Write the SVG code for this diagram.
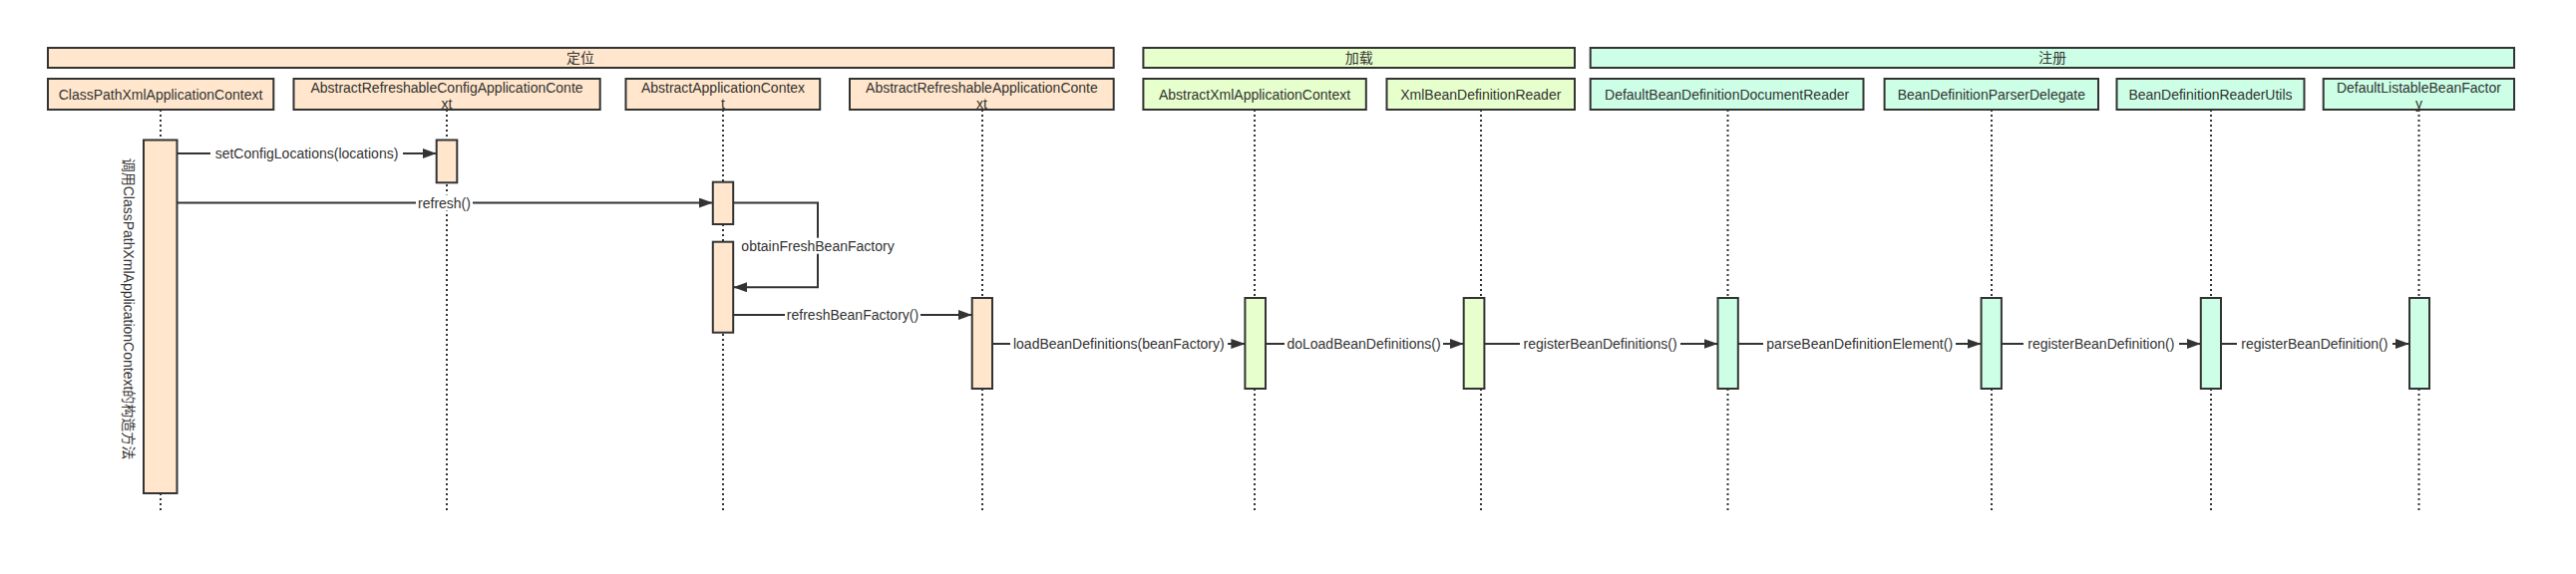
<svg xmlns="http://www.w3.org/2000/svg" width="2583" height="576" viewBox="0 0 2583 576">
<defs>
<style>
.t{font-family:"Liberation Sans","Noto Sans CJK SC",sans-serif;font-size:14px;fill:#333;text-anchor:middle;dominant-baseline:central}
.pe{fill:#FFE6CC;stroke:#333;stroke-width:2}
.gr{fill:#E6FFCC;stroke:#333;stroke-width:2}
.mi{fill:#CCFFE6;stroke:#333;stroke-width:2}
.life{stroke:#333;stroke-width:2;stroke-dasharray:2 3;fill:none}
.msg{stroke:#333;stroke-width:2;fill:none;marker-end:url(#arr)}
.bg{fill:#fff}
</style>
<marker id="arr" markerWidth="14" markerHeight="10" refX="14" refY="5" orient="auto" markerUnits="userSpaceOnUse">
<path d="M0,0 L14,5 L0,10 z" fill="#333"/>
</marker>
</defs>
<rect width="2583" height="576" fill="#fff"/>

<!-- group bars -->
<g id="bar-dingwei"><rect class="pe" x="48" y="48" width="1068.7" height="20"/><text class="t" x="582" y="58">定位</text></g>
<g id="bar-jiazai"><rect class="gr" x="1146.4" y="48" width="432.6" height="20"/><text class="t" x="1362.7" y="58">加载</text></g>
<g id="bar-zhuce"><rect class="mi" x="1594.7" y="48" width="926.3" height="20"/><text class="t" x="2058" y="58">注册</text></g>

<!-- lifelines -->
<g id="lifelines">
<line class="life" x1="161" y1="110" x2="161" y2="512"/>
<line class="life" x1="448" y1="110" x2="448" y2="512"/>
<line class="life" x1="725" y1="110" x2="725" y2="512"/>
<line class="life" x1="985" y1="110" x2="985" y2="512"/>
<line class="life" x1="1258" y1="110" x2="1258" y2="512"/>
<line class="life" x1="1485" y1="110" x2="1485" y2="512"/>
<line class="life" x1="1732.5" y1="110" x2="1732.5" y2="512"/>
<line class="life" x1="1997" y1="110" x2="1997" y2="512"/>
<line class="life" x1="2217" y1="110" x2="2217" y2="512"/>
<line class="life" x1="2425.5" y1="110" x2="2425.5" y2="512"/>
</g>

<!-- participants -->
<g id="p-ClassPathXmlApplicationContext"><rect class="pe" x="48" y="79" width="226.3" height="31"/><text class="t" x="161" y="94.5">ClassPathXmlApplicationContext</text>
<rect class="pe" x="144" y="140.5" width="33.5" height="354.5"/>
<text class="t" x="128.5" y="310" transform="rotate(90 128.5 310)">调用ClassPathXmlApplicationContext的构造方法</text></g>
<g id="p-AbstractRefreshableConfigApplicationContext"><rect class="pe" x="294.5" y="79" width="307.2" height="31"/><text class="t" x="448" y="87.5">AbstractRefreshableConfigApplicationConte</text><text class="t" x="448" y="104">xt</text>
<rect class="pe" x="437.7" y="140.5" width="20.6" height="42.8"/></g>
<g id="p-AbstractApplicationContext"><rect class="pe" x="627.5" y="79" width="194.7" height="31"/><text class="t" x="725" y="87.5">AbstractApplicationContex</text><text class="t" x="725" y="104">t</text>
<rect class="pe" x="714.8" y="182.7" width="20.4" height="42.3"/>
<rect class="pe" x="714.8" y="242.7" width="20.4" height="91"/></g>
<g id="p-AbstractRefreshableApplicationContext"><rect class="pe" x="852" y="79" width="264.7" height="31"/><text class="t" x="984.4" y="87.5">AbstractRefreshableApplicationConte</text><text class="t" x="984.4" y="104">xt</text>
<rect class="pe" x="974.7" y="299" width="20.3" height="91"/></g>
<g id="p-AbstractXmlApplicationContext"><rect class="gr" x="1146.4" y="79" width="223.4" height="31"/><text class="t" x="1258" y="94.5">AbstractXmlApplicationContext</text>
<rect class="gr" x="1248.4" y="299" width="20.6" height="91"/></g>
<g id="p-XmlBeanDefinitionReader"><rect class="gr" x="1390.5" y="79" width="188.5" height="31"/><text class="t" x="1484.8" y="94.5">XmlBeanDefinitionReader</text>
<rect class="gr" x="1467.7" y="299" width="20.7" height="91"/></g>
<g id="p-DefaultBeanDefinitionDocumentReader"><rect class="mi" x="1594.7" y="79" width="273.8" height="31"/><text class="t" x="1731.6" y="94.5">DefaultBeanDefinitionDocumentReader</text>
<rect class="mi" x="1722.5" y="299" width="20.3" height="91"/></g>
<g id="p-BeanDefinitionParserDelegate"><rect class="mi" x="1889.6" y="79" width="214.4" height="31"/><text class="t" x="1996.8" y="94.5">BeanDefinitionParserDelegate</text>
<rect class="mi" x="1986.6" y="299" width="20.3" height="91"/></g>
<g id="p-BeanDefinitionReaderUtils"><rect class="mi" x="2122.5" y="79" width="188" height="31"/><text class="t" x="2216.5" y="94.5">BeanDefinitionReaderUtils</text>
<rect class="mi" x="2206.8" y="299" width="20.2" height="91"/></g>
<g id="p-DefaultListableBeanFactory"><rect class="mi" x="2329.7" y="79" width="191.3" height="31"/><text class="t" x="2425.4" y="87.5">DefaultListableBeanFactor</text><text class="t" x="2425.4" y="104">y</text>
<rect class="mi" x="2416" y="299" width="20" height="91"/></g>

<!-- connectors -->
<g id="connectors">
<line class="msg" x1="177.5" y1="154" x2="437.7" y2="154"/>
<rect class="bg" x="211" y="146" width="193" height="16"/>
<text class="t" x="307.5" y="154">setConfigLocations(locations)</text>

<line class="msg" x1="177.5" y1="203.5" x2="714.8" y2="203.5"/>
<rect class="bg" x="417" y="195.5" width="57" height="16"/>
<text class="t" x="445.5" y="203.5">refresh()</text>

<polyline class="msg" points="735.2,203.5 820,203.5 820,288.3 735.2,288.3"/>
<rect class="bg" x="743" y="238.7" width="154" height="16"/>
<text class="t" x="820" y="246.7">obtainFreshBeanFactory</text>

<line class="msg" x1="735.2" y1="316" x2="974.7" y2="316"/>
<rect class="bg" x="787" y="308" width="136" height="16"/>
<text class="t" x="855" y="316">refreshBeanFactory()</text>

<line class="msg" x1="995" y1="345" x2="1248.4" y2="345"/>
<rect class="bg" x="1013" y="337" width="218" height="16"/>
<text class="t" x="1121.8" y="345">loadBeanDefinitions(beanFactory)</text>

<line class="msg" x1="1269" y1="345" x2="1467.7" y2="345"/>
<rect class="bg" x="1288" y="337" width="159" height="16"/>
<text class="t" x="1367.5" y="345">doLoadBeanDefinitions()</text>

<line class="msg" x1="1488.4" y1="345" x2="1722.5" y2="345"/>
<rect class="bg" x="1524" y="337" width="161" height="16"/>
<text class="t" x="1604.6" y="345">registerBeanDefinitions()</text>

<line class="msg" x1="1742.8" y1="345" x2="1986.6" y2="345"/>
<rect class="bg" x="1768" y="337" width="193" height="16"/>
<text class="t" x="1864.7" y="345">parseBeanDefinitionElement()</text>

<line class="msg" x1="2006.9" y1="345" x2="2206.8" y2="345"/>
<rect class="bg" x="2029" y="337" width="156" height="16"/>
<text class="t" x="2106.8" y="345">registerBeanDefinition()</text>

<line class="msg" x1="2227" y1="345" x2="2416" y2="345"/>
<rect class="bg" x="2243" y="337" width="156" height="16"/>
<text class="t" x="2320.8" y="345">registerBeanDefinition()</text>
</g>
</svg>
